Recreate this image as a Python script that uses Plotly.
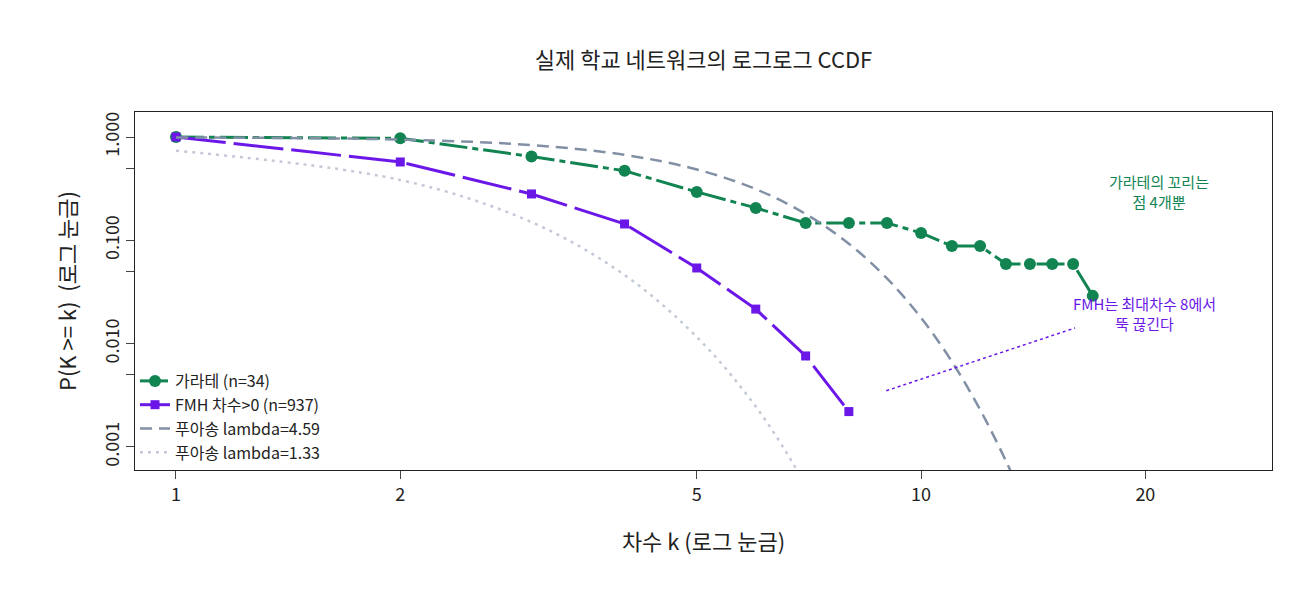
import plotly.graph_objects as go

# 가라테 네트워크 CCDF (n=34)
karate_k = [1, 2, 3, 4, 5, 6, 7, 8, 9, 10, 11, 12, 13, 14, 15, 16, 17]
karate_p = [1.0, 0.971, 0.647, 0.471, 0.294, 0.206, 0.147, 0.147, 0.147,
            0.118, 0.088, 0.088, 0.059, 0.059, 0.059, 0.059, 0.029]

# FMH 차수>0 (n=937)
fmh_k = [1, 2, 3, 4, 5, 6, 7, 8]
fmh_p = [1.0, 0.573, 0.281, 0.144, 0.054, 0.0216, 0.0076, 0.0022]

# 푸아송 기준선
pois_hi_k = [1, 2, 3, 4, 5, 6, 7, 8, 9, 10, 11, 12, 13, 14]
pois_hi_p = [0.990, 0.944, 0.835, 0.672, 0.485, 0.313, 0.180, 0.0927,
             0.0428, 0.0178, 0.0067, 0.0023, 0.00073, 0.00022]
pois_lo_k = [1, 2, 3, 4, 5, 6, 7, 8]
pois_lo_p = [0.736, 0.384, 0.150, 0.0461, 0.0116, 0.00246, 0.00043, 0.00007]

GREEN = '#118452'
PURPLE = '#6a17e8'
FONT = 'Noto Sans CJK KR'

fig = go.Figure()
fig.add_trace(go.Scatter(
    x=karate_k, y=karate_p, mode='lines+markers', name='가라테 (n=34)',
    line=dict(color=GREEN, width=3, dash='28px,5px,6px,5px'),
    marker=dict(symbol='circle', size=12, color=GREEN)))
fig.add_trace(go.Scatter(
    x=fmh_k, y=fmh_p, mode='lines+markers', name='FMH 차수>0 (n=937)',
    line=dict(color=PURPLE, width=3, dash='50px,8px'),
    marker=dict(symbol='square', size=9, color=PURPLE)))
fig.add_trace(go.Scatter(
    x=pois_hi_k, y=pois_hi_p, mode='lines', name='푸아송 lambda=4.59',
    line=dict(color='#8290a6', width=2.5, dash='12px,7px'), line_shape='spline'))
fig.add_trace(go.Scatter(
    x=pois_lo_k, y=pois_lo_p, mode='lines', name='푸아송 lambda=1.33',
    line=dict(color='#c3cad6', width=2.5, dash='3px,5px'), line_shape='spline'))

# 주석
fig.add_annotation(x=1.32, y=-0.53, xref='x', yref='y', text='가라테의 꼬리는<br>점 4개뿐',
                   showarrow=False, font=dict(color=GREEN, size=15, family=FONT))
fig.add_annotation(x=1.30, y=-1.71, xref='x', yref='y', text='FMH는 최대차수 8에서<br>뚝 끊긴다',
                   showarrow=False, font=dict(color=PURPLE, size=15, family=FONT))
fig.add_shape(type='line', x0=8.98, y0=0.0035, x1=16.1, y1=0.0142,
              line=dict(color=PURPLE, width=1.5, dash='dot'))

fig.update_layout(
    width=1300, height=600,
    plot_bgcolor='white', paper_bgcolor='white',
    font=dict(family=FONT, size=18, color='#222'),
    title=dict(text='실제 학교 네트워크의 로그로그 CCDF', x=0.535, y=0.925,
               font=dict(size=22)),
    margin=dict(l=127, r=36, t=104, b=138),
    showlegend=True,
    legend=dict(x=0.0, y=0.0, xanchor='left', yanchor='bottom',
                bgcolor='rgba(0,0,0,0)', font=dict(size=16), tracegroupgap=0),
    xaxis=dict(type='log', range=[-0.055, 1.471], tickvals=[1, 2, 5, 10, 20],
               ticktext=['1', '2', '5', '10', '20'], ticks='outside', ticklen=8,
               tickfont=dict(size=18),
               showgrid=False, zeroline=False, showline=True, mirror=True,
               linecolor='#222', linewidth=1,
               title=dict(text='차수 k (로그 눈금)', standoff=30)),
    yaxis=dict(type='log', range=[-3.223, 0.242],
               tickvals=[1, 0.5, 0.1, 0.05, 0.01, 0.005, 0.001],
               ticktext=['1.000', '', '0.100', '', '0.010', '', '0.001'],
               tickangle=-90, ticks='outside', ticklen=8, tickfont=dict(size=18),
               showgrid=False, zeroline=False, showline=True, mirror=True,
               linecolor='#222', linewidth=1,
               title=dict(text='P(K >= k)  (로그 눈금)', standoff=15)),
)

fig.write_html('out.html')
